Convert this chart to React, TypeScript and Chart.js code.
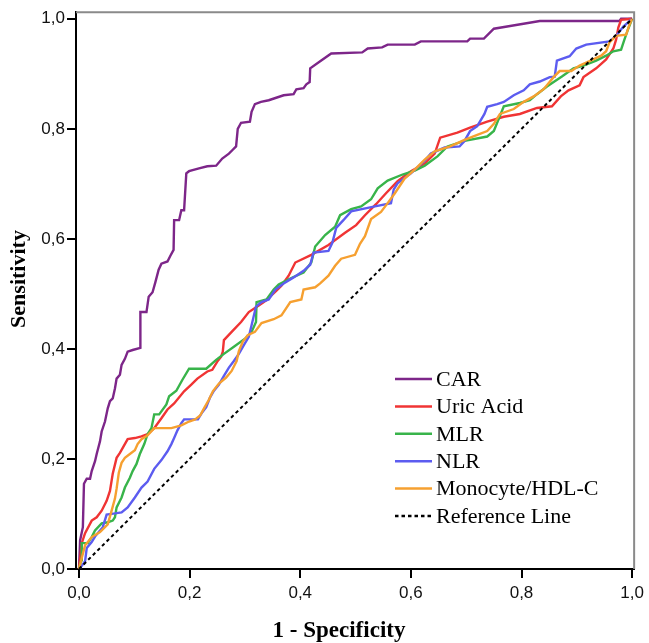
import React, { useEffect, useRef } from "react";
import { Chart, registerables } from "chart.js";

Chart.register(...registerables);

const tickValues = [0, 0.2, 0.4, 0.6, 0.8, 1.0];
const xTitle = "1 - Specificity";
const yTitle = "Sensitivity";
const seriesLabels = ["CAR", "Uric Acid", "MLR", "NLR", "Monocyte/HDL-C", "Reference Line"];
const seriesColors = ["#7d2689", "#f03434", "#38b44a", "#5c5cf0", "#f6a030", "#000000"];

const carX = [0,0.002,0.007,0.009,0.014,0.02,0.023,0.029,0.032,0.038,0.041,0.047,0.052,0.056,0.061,0.065,0.068,0.074,0.077,0.083,0.088,0.097,0.111,0.111,0.122,0.126,0.133,0.138,0.144,0.149,0.16,0.165,0.171,0.172,0.181,0.185,0.19,0.194,0.199,0.217,0.232,0.248,0.259,0.271,0.278,0.284,0.287,0.293,0.309,0.312,0.318,0.329,0.343,0.37,0.388,0.393,0.406,0.411,0.417,0.418,0.436,0.456,0.512,0.522,0.548,0.558,0.607,0.618,0.702,0.707,0.732,0.75,0.774,0.833,0.977,0.98,1];
const carY = [0,0.052,0.076,0.155,0.164,0.164,0.178,0.196,0.209,0.232,0.25,0.268,0.292,0.305,0.31,0.328,0.346,0.353,0.371,0.382,0.395,0.398,0.402,0.467,0.467,0.495,0.503,0.521,0.544,0.555,0.559,0.569,0.58,0.634,0.634,0.652,0.652,0.719,0.723,0.728,0.732,0.733,0.746,0.755,0.762,0.768,0.8,0.811,0.813,0.831,0.845,0.849,0.852,0.861,0.863,0.872,0.874,0.881,0.885,0.91,0.923,0.937,0.939,0.946,0.948,0.953,0.953,0.959,0.959,0.964,0.964,0.982,0.986,0.996,0.996,1,1];

const uricX = [0,0.005,0.011,0.023,0.032,0.041,0.05,0.056,0.061,0.068,0.074,0.088,0.101,0.113,0.124,0.136,0.149,0.16,0.172,0.19,0.203,0.214,0.232,0.241,0.25,0.257,0.26,0.262,0.276,0.293,0.307,0.325,0.338,0.357,0.366,0.379,0.391,0.42,0.451,0.481,0.501,0.517,0.537,0.555,0.576,0.6,0.625,0.643,0.653,0.684,0.707,0.738,0.768,0.797,0.828,0.855,0.871,0.885,0.905,0.912,0.935,0.953,0.966,0.971,0.975,0.98,1];
const uricY = [0,0.047,0.065,0.088,0.094,0.106,0.124,0.142,0.173,0.202,0.211,0.236,0.238,0.241,0.245,0.256,0.274,0.29,0.301,0.323,0.335,0.346,0.359,0.362,0.377,0.386,0.395,0.416,0.431,0.449,0.467,0.479,0.488,0.506,0.515,0.533,0.557,0.571,0.589,0.611,0.625,0.643,0.663,0.683,0.705,0.723,0.737,0.755,0.784,0.793,0.802,0.813,0.822,0.827,0.838,0.841,0.859,0.87,0.879,0.894,0.91,0.926,0.946,0.962,0.984,0.998,1];

const mlrX = [0,0.004,0.005,0.016,0.023,0.029,0.041,0.052,0.061,0.065,0.068,0.077,0.083,0.092,0.097,0.104,0.11,0.118,0.124,0.131,0.136,0.145,0.158,0.163,0.176,0.187,0.199,0.23,0.248,0.262,0.28,0.302,0.312,0.32,0.321,0.339,0.352,0.361,0.382,0.406,0.42,0.427,0.445,0.463,0.472,0.492,0.51,0.528,0.54,0.558,0.585,0.607,0.625,0.648,0.666,0.697,0.738,0.75,0.768,0.797,0.815,0.828,0.846,0.873,0.894,0.912,0.935,0.953,0.966,0.98,0.986,0.993,1];
const mlrY = [0,0.016,0.047,0.047,0.058,0.07,0.083,0.085,0.088,0.094,0.112,0.13,0.148,0.166,0.178,0.191,0.209,0.227,0.245,0.256,0.281,0.281,0.299,0.314,0.324,0.344,0.364,0.364,0.38,0.391,0.404,0.42,0.431,0.449,0.485,0.49,0.508,0.517,0.528,0.539,0.557,0.586,0.607,0.622,0.643,0.654,0.659,0.672,0.692,0.706,0.717,0.724,0.733,0.75,0.768,0.778,0.786,0.796,0.841,0.847,0.852,0.863,0.877,0.895,0.91,0.915,0.924,0.933,0.941,0.944,0.962,0.982,1];

const nlrX = [0,0.002,0.011,0.014,0.023,0.029,0.038,0.043,0.05,0.065,0.077,0.088,0.101,0.113,0.124,0.136,0.149,0.16,0.167,0.172,0.178,0.185,0.19,0.215,0.223,0.23,0.237,0.244,0.253,0.262,0.271,0.28,0.289,0.298,0.307,0.312,0.32,0.33,0.343,0.355,0.37,0.388,0.406,0.418,0.424,0.451,0.458,0.465,0.478,0.492,0.535,0.564,0.569,0.576,0.6,0.625,0.636,0.661,0.688,0.697,0.707,0.72,0.733,0.738,0.756,0.768,0.786,0.804,0.815,0.833,0.851,0.86,0.864,0.887,0.899,0.917,0.959,0.971,0.984,1];
const nlrY = [0,0.002,0.014,0.038,0.049,0.059,0.07,0.076,0.099,0.101,0.103,0.112,0.13,0.148,0.159,0.182,0.198,0.214,0.227,0.238,0.252,0.265,0.272,0.272,0.285,0.294,0.312,0.324,0.335,0.351,0.366,0.378,0.391,0.407,0.422,0.443,0.477,0.485,0.49,0.508,0.519,0.53,0.542,0.553,0.575,0.578,0.593,0.62,0.634,0.65,0.659,0.665,0.69,0.701,0.719,0.742,0.755,0.766,0.768,0.778,0.796,0.805,0.827,0.84,0.845,0.849,0.861,0.87,0.881,0.886,0.894,0.895,0.924,0.932,0.946,0.953,0.959,0.969,0.986,1];

const monoX = [0,0.005,0.011,0.023,0.038,0.052,0.059,0.065,0.068,0.072,0.077,0.083,0.092,0.101,0.106,0.113,0.124,0.136,0.167,0.185,0.199,0.21,0.219,0.226,0.235,0.242,0.253,0.266,0.276,0.285,0.289,0.296,0.305,0.318,0.33,0.352,0.366,0.382,0.402,0.406,0.427,0.436,0.451,0.463,0.474,0.499,0.508,0.517,0.528,0.546,0.558,0.571,0.589,0.607,0.625,0.643,0.671,0.697,0.72,0.738,0.75,0.761,0.786,0.804,0.822,0.84,0.858,0.869,0.89,0.905,0.923,0.944,0.953,0.959,0.971,0.989,0.995,1];
const monoY = [0,0.02,0.043,0.058,0.067,0.081,0.106,0.128,0.146,0.175,0.193,0.202,0.209,0.216,0.227,0.236,0.243,0.256,0.256,0.261,0.268,0.272,0.279,0.292,0.308,0.323,0.337,0.348,0.36,0.378,0.396,0.413,0.425,0.431,0.447,0.454,0.461,0.485,0.49,0.508,0.512,0.519,0.533,0.551,0.564,0.571,0.591,0.605,0.636,0.649,0.665,0.683,0.71,0.726,0.744,0.759,0.768,0.78,0.789,0.796,0.809,0.827,0.836,0.849,0.859,0.872,0.894,0.905,0.905,0.915,0.923,0.933,0.941,0.957,0.969,0.971,0.989,1];

const refX = [0, 1];
const refY = [0, 1];

const seriesX = [carX, uricX, mlrX, nlrX, monoX, refX];
const seriesY = [carY, uricY, mlrY, nlrY, monoY, refY];

const fmt = (v: number) => v.toFixed(1).replace(".", ",");

const framePlugin = {
  id: "frame",
  beforeDatasetsDraw(chart: any) {
    const { ctx, chartArea: a } = chart;
    ctx.save();
    ctx.strokeStyle = "#8a8a8a";
    ctx.lineWidth = 2;
    ctx.beginPath();
    ctx.moveTo(a.left, a.top);
    ctx.lineTo(a.right, a.top);
    ctx.lineTo(a.right, a.bottom);
    ctx.stroke();
    ctx.restore();
  },
};

const textPlugin = {
  id: "texts",
  afterDraw(chart: any) {
    const { ctx } = chart;
    ctx.save();
    ctx.fillStyle = "#000";
    ctx.textAlign = "center";
    ctx.textBaseline = "alphabetic";
    ctx.font = "bold 23px 'Liberation Serif', 'Times New Roman', serif";
    ctx.fillText(xTitle, 339, 637);
    ctx.font = "bold 22px 'Liberation Serif', 'Times New Roman', serif";
    ctx.save();
    ctx.translate(25, 279);
    ctx.rotate(-Math.PI / 2);
    ctx.fillText(yTitle, 0, 0);
    ctx.restore();

    const x0 = 395, x1 = 432, tx = 436, y0 = 379, dy = 27.4;
    ctx.font = "22px 'Liberation Serif', 'Times New Roman', serif";
    ctx.textAlign = "left";
    ctx.textBaseline = "middle";
    chart.data.datasets.forEach((ds: any, i: number) => {
      const y = y0 + i * dy;
      ctx.save();
      ctx.strokeStyle = ds.borderColor;
      ctx.lineWidth = 2.5;
      ctx.setLineDash(ds.borderDash || []);
      ctx.beginPath();
      ctx.moveTo(x0, y);
      ctx.lineTo(x1, y);
      ctx.stroke();
      ctx.restore();
      ctx.fillStyle = "#000";
      ctx.fillText(ds.label, tx, y + 1);
    });
    ctx.restore();
  },
};

export default function App() {
  const ref = useRef<HTMLCanvasElement | null>(null);

  useEffect(() => {
    if (!ref.current) return;
    const datasets = seriesLabels.map((label, i) => ({
      label,
      data: seriesX[i].map((x, j) => ({ x, y: seriesY[i][j] })),
      borderColor: seriesColors[i],
      backgroundColor: seriesColors[i],
      borderWidth: i === 5 ? 2 : 2.4,
      borderDash: i === 5 ? [3.5, 3] : undefined,
      pointRadius: 0,
      tension: 0,
      fill: false,
      order: -i,
    }));

    const tickFont = { family: "'Liberation Sans Narrow', 'Liberation Sans', Arial, sans-serif", size: 17 };

    const chart = new Chart(ref.current, {
      type: "line",
      data: { datasets },
      plugins: [framePlugin, textPlugin],
      options: {
        animation: false,
        responsive: false,
        layout: { padding: { top: 7, right: 11, left: 0, bottom: 0 } },
        plugins: { legend: { display: false }, tooltip: { enabled: false } },
        scales: {
          x: {
            type: "linear",
            min: -0.0054,
            max: 1.0036,
            afterBuildTicks: (s: any) => { s.ticks = tickValues.map((v) => ({ value: v })); },
            afterFit: (s: any) => { s.height = 74; },
            grid: { drawOnChartArea: false, drawTicks: true, tickLength: 9, color: "#000", lineWidth: 2 },
            border: { display: true, color: "#000", width: 2 },
            ticks: { color: "#111", font: tickFont, padding: 5, callback: (v: any) => fmt(Number(v)), maxRotation: 0 },
          },
          y: {
            type: "linear",
            min: 0,
            max: 1.012,
            afterBuildTicks: (s: any) => { s.ticks = tickValues.map((v) => ({ value: v })); },
            afterFit: (s: any) => { s.width = 76; },
            grid: { drawOnChartArea: false, drawTicks: true, tickLength: 9, color: "#000", lineWidth: 2 },
            border: { display: true, color: "#000", width: 2 },
            ticks: { color: "#111", font: tickFont, padding: 2, callback: (v: any) => fmt(Number(v)) },
          },
        },
      },
    } as any);
    return () => chart.destroy();
  }, []);

  return (
    <div style={{ position: "fixed", left: 0, top: 0, width: 649, height: 643, background: "#fff" }}>
      <canvas ref={ref} width={649} height={643} style={{ display: "block", width: 649, height: 643 }} />
    </div>
  );
}
